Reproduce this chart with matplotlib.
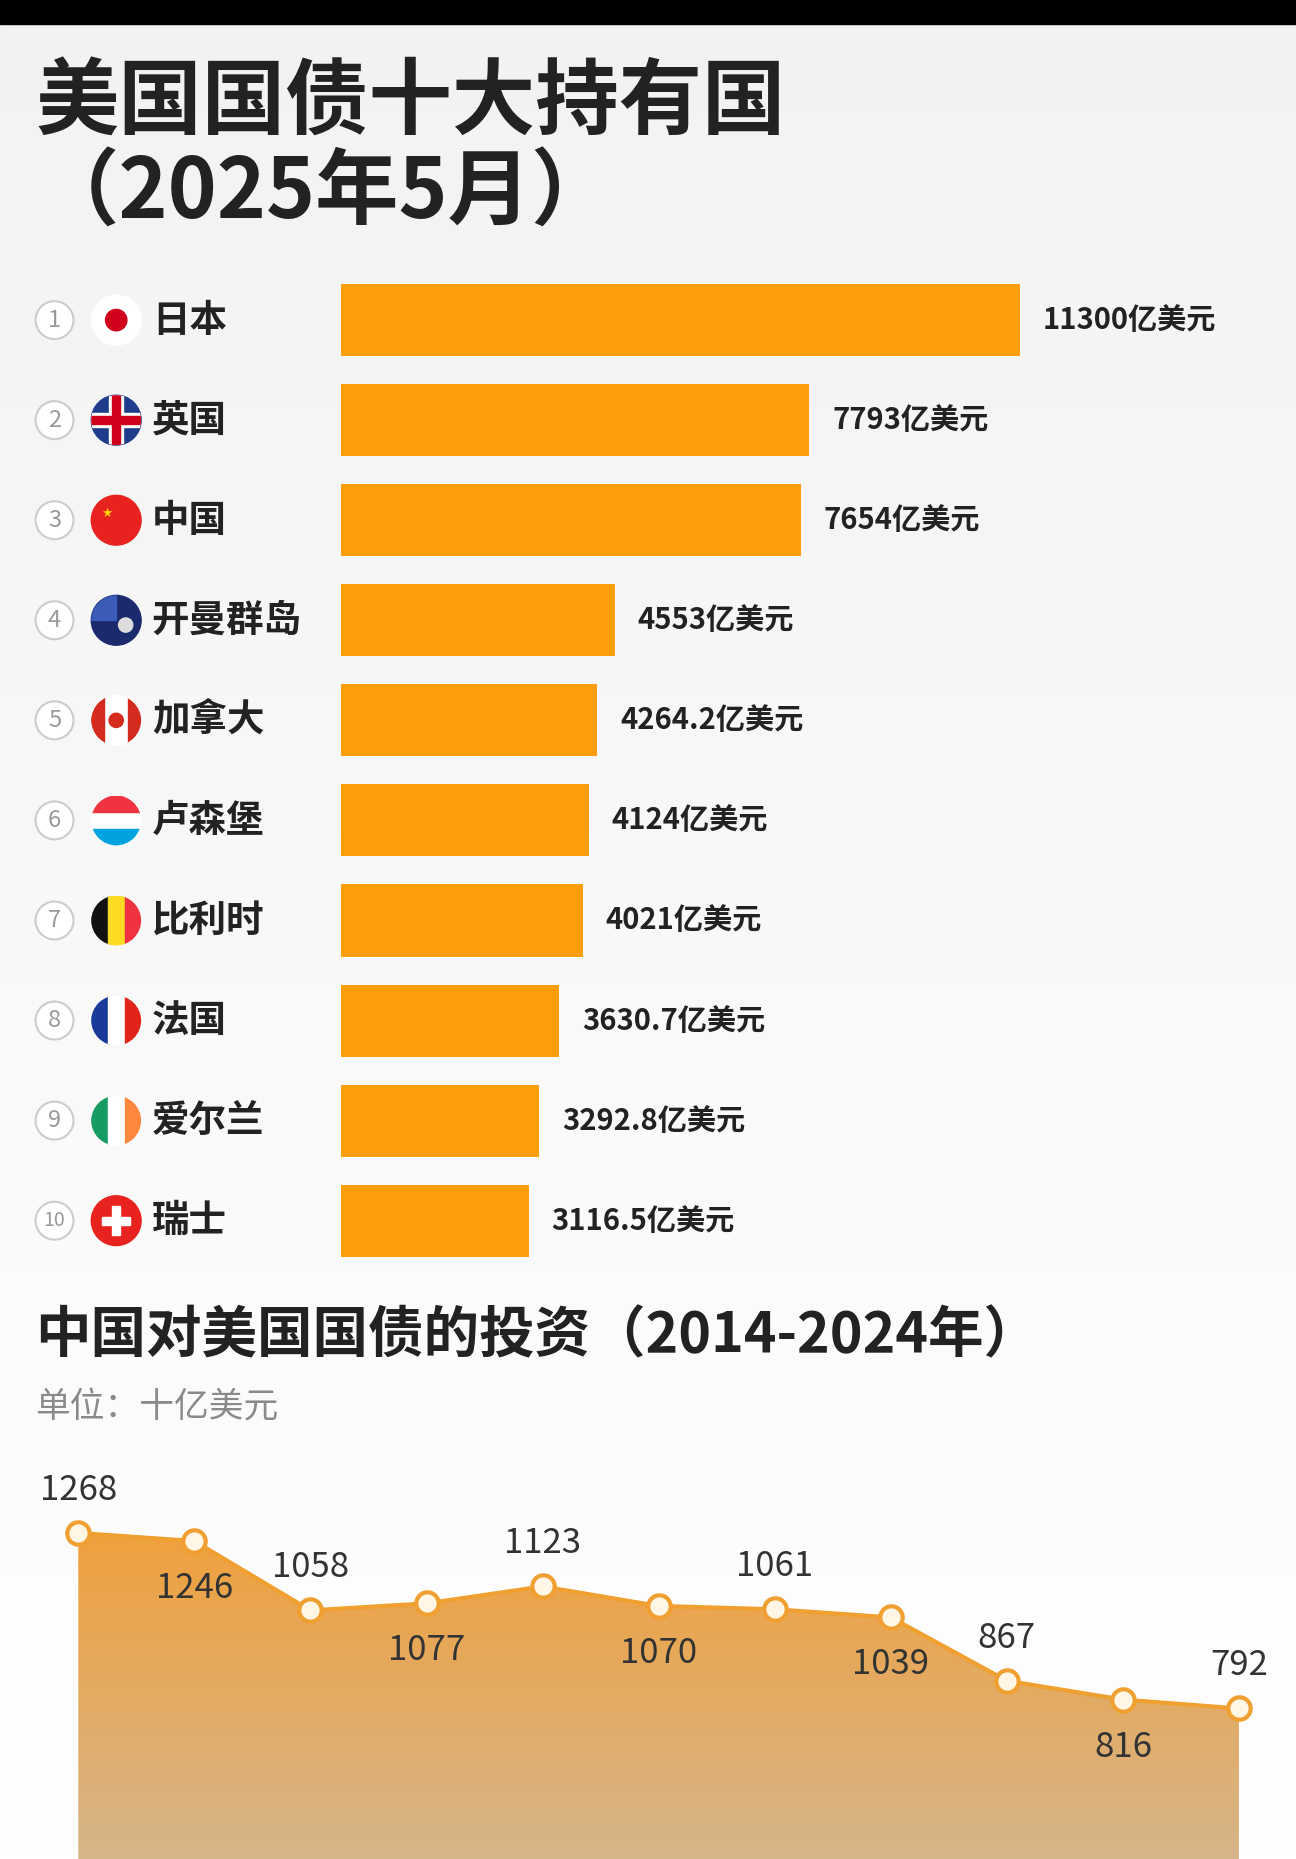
import numpy as np
import matplotlib
matplotlib.use("Agg")
import matplotlib.pyplot as plt
from matplotlib.patches import Circle, Rectangle, Polygon

FONT = "Noto Sans CJK SC"
plt.rcParams["font.family"] = FONT

countries = ["日本", "英国", "中国", "开曼群岛", "加拿大", "卢森堡", "比利时", "法国", "爱尔兰", "瑞士"]
holdings = [11300, 7793, 7654, 4553, 4264.2, 4124, 4021, 3630.7, 3292.8, 3116.5]
holding_labels = ["11300", "7793", "7654", "4553", "4264.2", "4124", "4021", "3630.7", "3292.8", "3116.5"]
years = list(range(2014, 2025))
china_inv = [1268, 1246, 1058, 1077, 1123, 1070, 1061, 1039, 867, 816, 792]
label_above = [True, False, True, False, True, False, True, False, True, False, True]

W, H = 1093, 1568
fig = plt.figure(figsize=(12.96, 18.59), dpi=100)

bg = fig.add_axes([0, 0, 1, 1])
bg.set_xlim(0, W); bg.set_ylim(H, 0); bg.axis("off")
grad = np.linspace(0, 1, 256).reshape(-1, 1)
bg.imshow(np.dstack([0.95 + 0.05 * grad, 0.95 + 0.05 * grad, 0.95 + 0.05 * grad]),
          extent=[0, W, 1568, 0], aspect="auto", zorder=0)
bg.add_patch(Rectangle((0, 0), W, 20, color="black", zorder=1))
bg.text(30, 88, "美国国债十大持有国", fontsize=60, fontweight="bold", va="center", color="#222222")
bg.text(30, 163, "（2025年5月）", fontsize=60, fontweight="bold", va="center", color="#222222")

row0, step = 270, 84.4
bx = fig.add_axes([288 / W, 0, (W - 288) / W, 1])
xmax = (W - 288) / (572 / 11300)
bx.set_xlim(0, xmax)
bx.set_ylim((H - row0) / step, -row0 / step)
bx.axis("off")
bx.barh(range(len(holdings)), holdings, height=0.72, color="#FF9E0B")
for i, (v, lab) in enumerate(zip(holdings, holding_labels)):
    bx.text(v + 380, i, lab + "亿美元", fontsize=21, fontweight="bold", va="center", color="#222222")

def flag(ax, cx, cy, k):
    r = 21
    clip = Circle((cx, cy), r, transform=ax.transData)
    def add(p):
        p.set_clip_path(clip); ax.add_patch(p)
    if k == 0:
        ax.add_patch(Circle((cx, cy), r, color="white"))
        ax.add_patch(Circle((cx, cy), 9, color="#D0021B"))
    elif k == 1:
        ax.add_patch(Circle((cx, cy), r, color="#1F3B8C"))
        add(Rectangle((cx - r, cy - 6), 2 * r, 12, color="white"))
        add(Rectangle((cx - 6, cy - r), 12, 2 * r, color="white"))
        add(Rectangle((cx - r, cy - 3.5), 2 * r, 7, color="#D0021B"))
        add(Rectangle((cx - 3.5, cy - r), 7, 2 * r, color="#D0021B"))
    elif k == 2:
        ax.add_patch(Circle((cx, cy), r, color="#E8231F"))
        ax.text(cx - 8, cy - 6, "★", color="#FFD400", fontsize=9, ha="center", va="center", family="DejaVu Sans")
    elif k == 3:
        ax.add_patch(Circle((cx, cy), r, color="#1A2A6C"))
        add(Rectangle((cx - r, cy - r), r, r, color="#3A5BB8"))
        ax.add_patch(Circle((cx + 8, cy + 4), 6, color="#dddddd"))
    elif k == 4:
        ax.add_patch(Circle((cx, cy), r, color="white"))
        add(Rectangle((cx - r, cy - r), 11, 2 * r, color="#D52B1E"))
        add(Rectangle((cx + r - 11, cy - r), 11, 2 * r, color="#D52B1E"))
        ax.add_patch(Circle((cx, cy), 6, color="#D52B1E"))
    elif k == 5:
        ax.add_patch(Circle((cx, cy), r, color="white"))
        add(Rectangle((cx - r, cy - r), 2 * r, 14, color="#EF3340"))
        add(Rectangle((cx - r, cy + r - 14), 2 * r, 14, color="#00A3E0"))
    elif k in (6, 7, 8):
        cols = {6: ["#111111", "#FDDA24", "#EF3340"], 7: ["#1A3A9A", "white", "#E2231A"],
                8: ["#169B62", "white", "#FF883E"]}[k]
        for j, c in enumerate(cols):
            add(Rectangle((cx - r + j * 2 * r / 3, cy - r), 2 * r / 3 + 0.5, 2 * r, color=c))
    elif k == 9:
        ax.add_patch(Circle((cx, cy), r, color="#E8231F"))
        ax.add_patch(Rectangle((cx - 3.5, cy - 12), 7, 24, color="white"))
        ax.add_patch(Rectangle((cx - 12, cy - 3.5), 24, 7, color="white"))

for i, name in enumerate(countries):
    cy = row0 + step * i
    bg.add_patch(Circle((46, cy), 16, facecolor="white", edgecolor="#cccccc", lw=1.5))
    bg.text(46, cy, str(i + 1), fontsize=17 if i < 9 else 14, ha="center", va="center", color="#999999")
    flag(bg, 98, cy, i)
    bg.text(128, cy, name, fontsize=27, fontweight="bold", va="center", color="#222222")

bg.text(30, 1127, "中国对美国国债的投资（2014-2024年）", fontsize=40, fontweight="bold", va="center", color="#222222")
bg.text(30, 1188, "单位：十亿美元", fontsize=25, va="center", color="#8a8a8a")

lx = fig.add_axes([0, 0, 1, 1])
lx.patch.set_alpha(0)
x0px, xstep = 66, 97.9
lx.set_xlim(2014 - x0px / xstep, 2014 + (W - x0px) / xstep)
ppu = 0.311
ybot = 1268 - (H - 1293) / ppu
ytop = 1268 + 1293 / ppu
lx.set_ylim(ybot, ytop)
lx.axis("off")
g = np.linspace(0, 1, 256).reshape(-1, 1)
img = np.dstack([0.94 - 0.10 * g, 0.63 + 0.08 * g, 0.24 + 0.30 * g])
im = lx.imshow(img, extent=[years[0], years[-1], ybot, max(china_inv)], aspect="auto",
               origin="upper", zorder=1)
verts = [(years[0], ybot)] + list(zip(years, china_inv)) + [(years[-1], ybot)]
clip = Polygon(verts, transform=lx.transData)
im.set_clip_path(clip)
lx.plot(years, china_inv, color="#F0A030", lw=3, zorder=3)
lx.scatter(years, china_inv, s=260, facecolor="#FFF6E6", edgecolor="#F0A030", linewidth=3, zorder=4)
for x, v, up in zip(years, china_inv, label_above):
    off = 36 / ppu if up else -40 / ppu
    lx.text(x, v + off, str(v), fontsize=25, ha="center", va="center", color="#333333", zorder=5)

fig.savefig("out.png", dpi=100)
